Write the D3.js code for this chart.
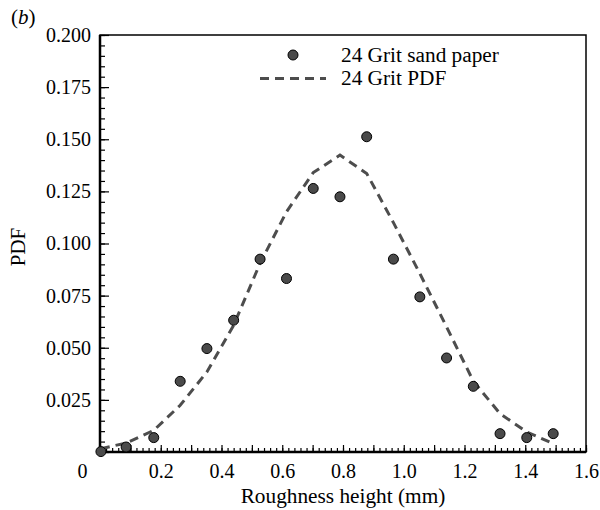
<!DOCTYPE html>
<html>
<head>
<meta charset="utf-8">
<script src="https://cdn.jsdelivr.net/npm/d3@7"></script>
<style>
  body { margin: 0; background: #fff; }
  text { font-family: "Liberation Serif", "DejaVu Serif", serif; fill: #000; }
</style>
</head>
<body>
<div id="chart"></div>
<script>
var svgWidth = 600;
var svgHeight = 510;

var margin = { top: 35, right: 14, bottom: 58, left: 100 };
var width = svgWidth - margin.left - margin.right;
var height = svgHeight - margin.top - margin.bottom;

// measured points (24 grit sand paper)
var pointX = [0.003, 0.086, 0.177, 0.264, 0.352, 0.440, 0.527, 0.614, 0.702, 0.790, 0.878, 0.966, 1.053, 1.141, 1.229, 1.317, 1.405, 1.492];
var pointY = [0.0002, 0.0024, 0.0069, 0.0339, 0.0496, 0.0632, 0.0925, 0.0832, 0.1264, 0.1224, 0.1512, 0.0925, 0.0744, 0.0451, 0.0315, 0.0088, 0.0069, 0.0088];

// fitted pdf curve
var curveX = [0.003, 0.086, 0.177, 0.264, 0.352, 0.440, 0.527, 0.614, 0.702, 0.790, 0.878, 0.966, 1.053, 1.141, 1.229, 1.317, 1.405, 1.492];
var curveY = [0.0016, 0.0043, 0.0104, 0.0224, 0.0384, 0.0608, 0.0905, 0.1152, 0.1340, 0.1424, 0.1336, 0.1100, 0.0856, 0.0600, 0.0340, 0.0184, 0.0096, 0.0040];

var xTicks = [0, 0.2, 0.4, 0.6, 0.8, 1.0, 1.2, 1.4, 1.6];
var yTicks = [0.025, 0.050, 0.075, 0.100, 0.125, 0.150, 0.175, 0.200];

var legendLabels = ["24 Grit sand paper", "24 Grit PDF"];

var svg = d3.select("#chart")
  .append("svg")
  .attr("width", svgWidth)
  .attr("height", svgHeight);

var chartGroup = svg.append("g")
  .attr("transform", `translate(${margin.left}, ${margin.top})`);

var xScale = d3.scaleLinear().domain([0, 1.6]).range([0, width]);
var yScale = d3.scaleLinear().domain([0, 0.2]).range([height, 0]);

// minor ticks
chartGroup.append("g")
  .call(d3.axisBottom(xScale).tickValues(d3.range(0, 1.6001, 0.02)).tickSize(-4).tickFormat(""))
  .attr("transform", `translate(0, ${height})`)
  .call(g => g.select(".domain").remove());
chartGroup.append("g")
  .call(d3.axisLeft(yScale).tickValues(d3.range(0, 0.2001, 0.005)).tickSize(-5).tickFormat(""))
  .call(g => g.select(".domain").remove());

// major ticks
chartGroup.append("g")
  .call(d3.axisBottom(xScale).tickValues(d3.range(0, 1.6001, 0.1)).tickSize(-7).tickFormat(""))
  .attr("transform", `translate(0, ${height})`)
  .call(g => g.select(".domain").remove());
chartGroup.append("g")
  .call(d3.axisLeft(yScale).tickValues(d3.range(0, 0.2001, 0.025)).tickSize(-9).tickFormat(""))
  .call(g => g.select(".domain").remove());

chartGroup.selectAll(".tick line").attr("stroke", "#000").attr("stroke-width", 1.2);

// tick labels
var xLabels = chartGroup.append("g")
  .attr("transform", `translate(0, ${height})`)
  .call(d3.axisBottom(xScale).tickValues(xTicks).tickSize(0).tickPadding(12)
    .tickFormat(d => d === 0 ? "0" : d3.format(".1f")(d)));
xLabels.select(".domain").remove();
xLabels.selectAll("text").attr("font-size", 20).attr("font-family", "Liberation Serif")
  .attr("x", d => d === 0 ? -18 : 0);

var yLabels = chartGroup.append("g")
  .call(d3.axisLeft(yScale).tickValues(yTicks).tickSize(0).tickPadding(9)
    .tickFormat(d3.format(".3f")));
yLabels.select(".domain").remove();
yLabels.selectAll("text").attr("font-size", 20).attr("font-family", "Liberation Serif");

// frame
chartGroup.append("rect")
  .attr("width", width)
  .attr("height", height)
  .attr("fill", "none")
  .attr("stroke", "#000")
  .attr("stroke-width", 1.5);
chartGroup.append("line")
  .attr("x1", 0).attr("x2", 0).attr("y1", 0).attr("y2", height)
  .attr("stroke", "#000").attr("stroke-width", 2.5);
chartGroup.append("line")
  .attr("x1", 0).attr("x2", width).attr("y1", height).attr("y2", height)
  .attr("stroke", "#000").attr("stroke-width", 2.5);

// pdf curve
var curveData = curveX.map((x, i) => ({ x: x, y: curveY[i] }));
var line = d3.line().x(d => xScale(d.x)).y(d => yScale(d.y));
chartGroup.append("path")
  .datum(curveData)
  .attr("d", line)
  .attr("fill", "none")
  .attr("stroke", "#4d4d4d")
  .attr("stroke-width", 3)
  .attr("stroke-dasharray", "9,6");

// points
var pointData = pointX.map((x, i) => ({ x: x, y: pointY[i] }));
chartGroup.selectAll("circle.pt")
  .data(pointData)
  .enter()
  .append("circle")
  .attr("class", "pt")
  .attr("cx", d => xScale(d.x))
  .attr("cy", d => yScale(d.y))
  .attr("r", 5)
  .attr("fill", "#4a4a4a")
  .attr("stroke", "#000")
  .attr("stroke-width", 1);

// legend
var legend = svg.append("g");
legend.append("circle")
  .attr("cx", 293).attr("cy", 55).attr("r", 5)
  .attr("fill", "#4a4a4a").attr("stroke", "#000").attr("stroke-width", 1);
legend.append("line")
  .attr("x1", 260).attr("x2", 326).attr("y1", 78.5).attr("y2", 78.5)
  .attr("stroke", "#4d4d4d").attr("stroke-width", 3).attr("stroke-dasharray", "9,6");
legend.selectAll("text.leg")
  .data(legendLabels)
  .enter()
  .append("text")
  .attr("class", "leg")
  .attr("x", 341)
  .attr("y", (d, i) => 62 + i * 23)
  .attr("font-size", 21.3)
  .text(d => d);

// axis titles
svg.append("text")
  .attr("x", margin.left + width / 2)
  .attr("y", 503)
  .attr("text-anchor", "middle")
  .attr("font-size", 21.3)
  .text("Roughness height (mm)");

svg.append("text")
  .attr("transform", "translate(25, 247) rotate(-90)")
  .attr("text-anchor", "middle")
  .attr("font-size", 21)
  .text("PDF");

svg.append("text")
  .attr("x", 11)
  .attr("y", 24)
  .attr("font-size", 21)
  .html('(<tspan font-style="italic">b</tspan>)');
</script>
</body>
</html>
